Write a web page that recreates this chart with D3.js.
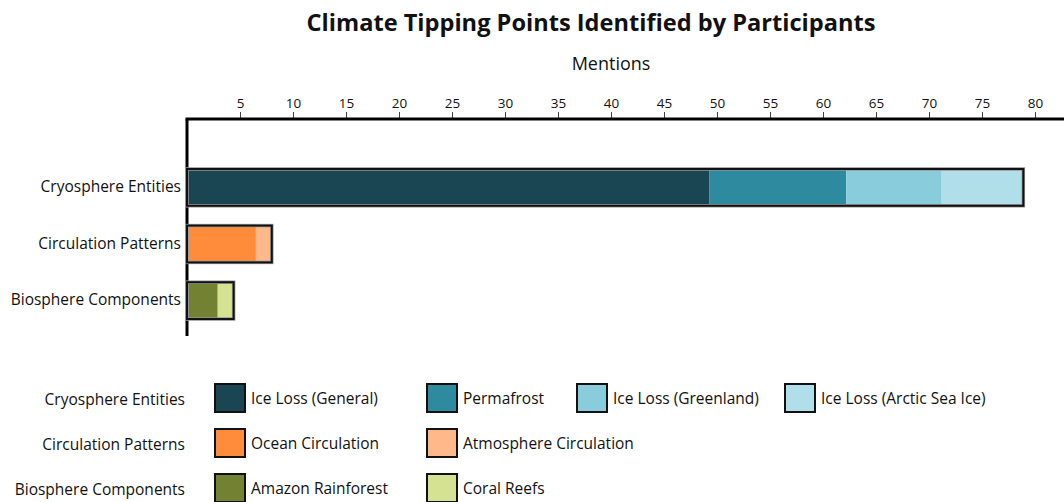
<!DOCTYPE html>
<html>
<head>
<meta charset="utf-8">
<script src="https://cdn.jsdelivr.net/npm/d3@7"></script>
<style>
  html, body { margin: 0; padding: 0; background: #fff; }
  svg text { font-family: "Open Sans", "Lato", sans-serif; fill: #111; }
</style>
</head>
<body>
<svg id="chart" width="1064" height="502"></svg>
<script>
// Category rows, top to bottom
const categories = ["Cryosphere Entities", "Circulation Patterns", "Biosphere Components"];

// Sub-topics within each category, in stacking order
const cryoLabels = ["Ice Loss (General)", "Permafrost", "Ice Loss (Greenland)", "Ice Loss (Arctic Sea Ice)"];
const cryoValues = [49.3, 12.9, 9.0, 7.7];
const cryoColors = ["#1a4653", "#2e8a9e", "#89cddd", "#b0dfea"];

const circLabels = ["Ocean Circulation", "Atmosphere Circulation"];
const circValues = [6.5, 1.5];
const circColors = ["#ff8c3a", "#ffb88a"];

const bioLabels = ["Amazon Rainforest", "Coral Reefs"];
const bioValues = [2.9, 1.5];
const bioColors = ["#738232", "#d4e291"];

const tickValues = [5, 10, 15, 20, 25, 30, 35, 40, 45, 50, 55, 60, 65, 70, 75, 80];

const groups = [
  { name: categories[0], labels: cryoLabels, values: cryoValues, colors: cryoColors },
  { name: categories[1], labels: circLabels, values: circValues, colors: circColors },
  { name: categories[2], labels: bioLabels, values: bioValues, colors: bioColors }
];

const svg = d3.select("#chart");
const plotLeft = 187, plotTop = 119, plotBottom = 336;

const x = d3.scaleLinear().domain([0, 80]).range([plotLeft, plotLeft + 848]);
const y = d3.scaleBand().domain(categories).range([152, 336]).paddingInner(0.35).paddingOuter(0.3);

// Title and axis title
svg.append("text").attr("x", 591).attr("y", 31).attr("text-anchor", "middle")
  .style("font-size", "23.6px").style("font-weight", "bold")
  .text("Climate Tipping Points Identified by Participants");
svg.append("text").attr("x", 611).attr("y", 70).attr("text-anchor", "middle")
  .style("font-size", "18px").text("Mentions");

// Top axis
const xAxis = d3.axisTop(x).tickValues(tickValues).tickSize(7).tickSizeOuter(0);
const gx = svg.append("g").attr("transform", `translate(0,${plotTop})`).call(xAxis);
gx.select(".domain").remove();
gx.selectAll(".tick line").attr("stroke", "#444").attr("stroke-width", 1);
gx.selectAll(".tick text").attr("dy", "-0.1em")
  .style("font-size", "13.5px").style("font-family", "'Open Sans', sans-serif").attr("fill", "#111");
svg.append("line").attr("x1", plotLeft - 1.5).attr("x2", 1064).attr("y1", plotTop).attr("y2", plotTop)
  .attr("stroke", "#000").attr("stroke-width", 3);

// Left axis line and category labels
svg.append("line").attr("x1", plotLeft).attr("x2", plotLeft).attr("y1", plotTop).attr("y2", plotBottom)
  .attr("stroke", "#000").attr("stroke-width", 3);
svg.selectAll("text.cat").data(categories).join("text").attr("class", "cat")
  .attr("x", 181).attr("y", d => y(d) + y.bandwidth() / 2).attr("dy", "0.3em")
  .attr("text-anchor", "end").style("font-size", "15.5px").text(d => d);

// Stacked bars
groups.forEach(g => {
  let acc = 0;
  const segs = g.values.map((v, i) => { const s = { x0: acc, x1: acc + v, c: g.colors[i] }; acc += v; return s; });
  const row = svg.append("g");
  row.selectAll("rect.seg").data(segs).join("rect").attr("class", "seg")
    .attr("x", d => x(d.x0)).attr("width", d => x(d.x1) - x(d.x0))
    .attr("y", y(g.name)).attr("height", y.bandwidth()).attr("fill", d => d.c);
  // outline around the whole stacked bar
  row.append("rect").attr("x", x(0)).attr("width", x(acc) - x(0))
    .attr("y", y(g.name)).attr("height", y.bandwidth())
    .attr("fill", "none").attr("stroke", "#999").attr("stroke-width", 3.5);
  row.append("rect").attr("x", x(0)).attr("width", x(acc) - x(0))
    .attr("y", y(g.name)).attr("height", y.bandwidth())
    .attr("fill", "none").attr("stroke", "#111").attr("stroke-width", 2);
});

// Legend
const legendRowsY = [398, 443, 488];
const colX = [215, 427, 577, 785];
groups.forEach((g, r) => {
  const cy = legendRowsY[r];
  svg.append("text").attr("x", 185).attr("y", cy + 1.5).attr("dy", "0.35em").attr("text-anchor", "end")
    .style("font-size", "15.5px").text(g.name);
  g.labels.forEach((lab, i) => {
    svg.append("rect").attr("x", colX[i]).attr("y", cy - 14).attr("width", 30).attr("height", 28)
      .attr("fill", g.colors[i]).attr("stroke", "#111").attr("stroke-width", 2);
    svg.append("text").attr("x", colX[i] + 36).attr("y", cy + 0.5).attr("dy", "0.35em")
      .style("font-size", "15.5px").text(lab);
  });
});
</script>
</body>
</html>
